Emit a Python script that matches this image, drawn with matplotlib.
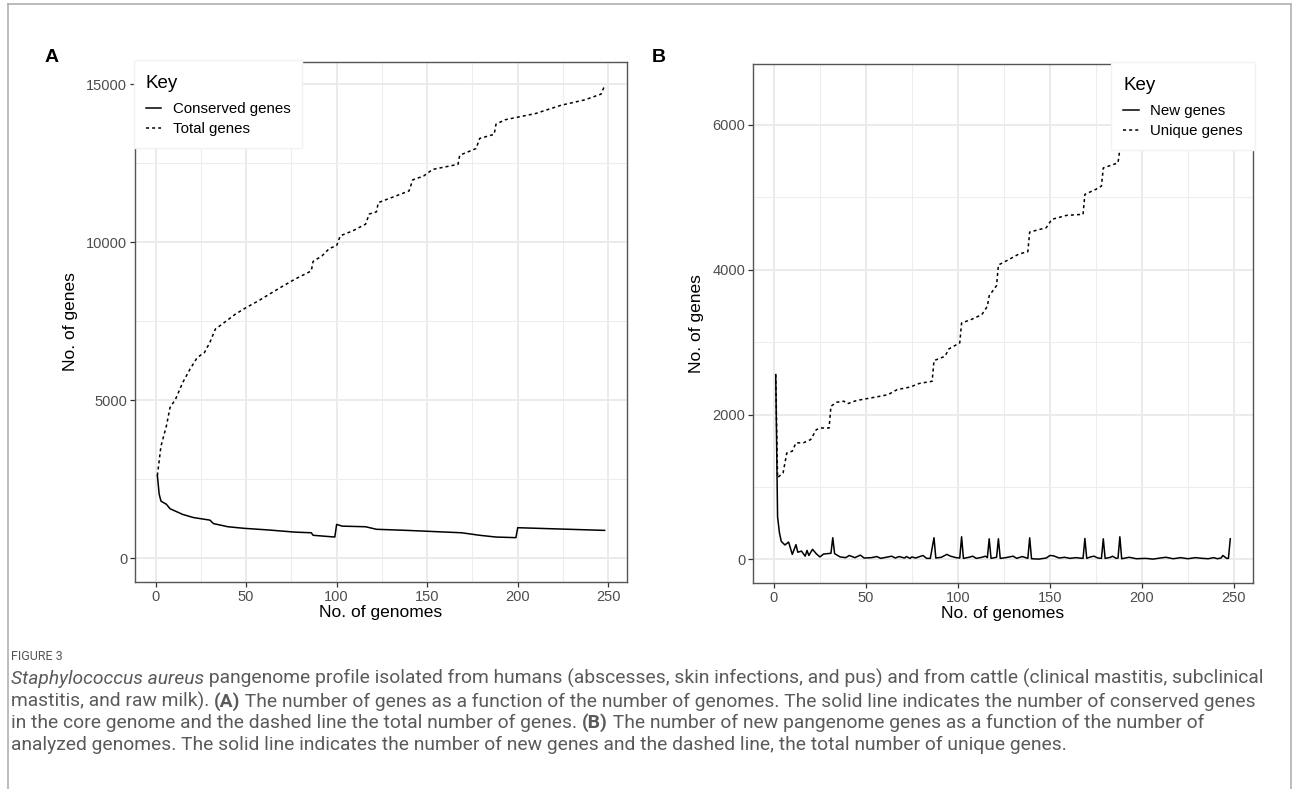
import matplotlib.pyplot as plt
from matplotlib.lines import Line2D
from matplotlib.text import Annotation

# ---- Panel A: pangenome size vs number of genomes ----
a_total_x = [1, 3, 6, 8, 11, 15, 19, 23, 27, 30, 33, 38, 44, 50, 57, 63, 70, 77, 86, 87,
             92, 96, 100, 102, 109, 116, 118, 122, 123, 140, 142, 148, 153, 167, 168, 177,
             179, 187, 188, 193, 210, 224, 237, 246, 248]
a_total = [2620, 3550, 4190, 4770, 5030, 5560, 5980, 6350, 6510, 6830, 7250, 7460, 7720,
           7930, 8150, 8360, 8600, 8830, 9090, 9390, 9570, 9800, 9890, 10200, 10360, 10570,
           10890, 10960, 11250, 11620, 11970, 12090, 12300, 12460, 12750, 12960, 13280,
           13410, 13730, 13870, 14070, 14330, 14500, 14680, 14950]

a_cons_x = [1, 2, 3, 6, 8, 15, 21, 30, 32, 40, 49, 62, 77, 86, 87, 99, 100, 103, 116, 122,
            139, 169, 179, 188, 199, 200, 248]
a_conserved = [2620, 2030, 1810, 1710, 1570, 1390, 1290, 1210, 1100, 1000, 950, 900, 830,
               810, 730, 675, 1075, 1020, 1000, 920, 885, 810, 730, 675, 655, 970, 885]

# ---- Panel B: new and unique genes ----
b_new_x = [1, 2, 3, 4, 6, 8, 10, 12, 13, 15, 17, 18, 19, 21, 23, 25, 27, 29, 31, 32, 33, 36,
           39, 41, 44, 47, 49, 53, 56, 58, 61, 64, 66, 68, 71, 72, 74, 75, 77, 81, 83, 85,
           87, 88, 91, 94, 96, 99, 101, 102, 103, 106, 108, 110, 113, 115, 116, 117, 118,
           121, 122, 123, 126, 130, 132, 133, 135, 138, 139, 140, 144, 148, 150, 152, 155,
           158, 161, 164, 168, 169, 170, 172, 174, 176, 178, 179, 180, 183, 184, 186, 187,
           188, 189, 193, 197, 202, 206, 210, 213, 217, 221, 225, 229, 233, 236, 239, 241,
           243, 244, 246, 247, 248]
b_new = [2552, 590, 370, 250, 200, 240, 70, 205, 100, 115, 45, 125, 55, 140, 80, 35, 75, 80,
         85, 300, 80, 35, 25, 55, 25, 60, 20, 25, 40, 15, 30, 45, 20, 40, 20, 40, 15, 35,
         20, 55, 15, 15, 300, 20, 30, 70, 45, 25, 20, 313, 15, 30, 45, 15, 30, 45, 25, 285,
         15, 30, 285, 15, 25, 45, 15, 25, 40, 15, 299, 10, 5, 20, 55, 50, 20, 30, 15, 25,
         15, 290, 15, 35, 45, 20, 15, 285, 15, 30, 45, 15, 20, 313, 10, 30, 10, 15, 5, 20,
         30, 10, 25, 10, 25, 15, 10, 25, 10, 20, 55, 15, 15, 285]

b_uniq_x = [1, 2, 5, 7, 10, 12, 16, 20, 23, 25, 30, 31, 34, 38, 40, 45, 56, 62, 67, 74, 79,
            86, 87, 93, 95, 101, 102, 107, 113, 116, 117, 121, 122, 128, 133, 138, 139, 148,
            151, 159, 168, 169, 175, 178, 179, 187, 188, 200, 215, 230, 248]
b_unique = [2552, 1130, 1195, 1470, 1495, 1610, 1610, 1655, 1790, 1815, 1815, 2115, 2170,
            2185, 2150, 2195, 2245, 2275, 2345, 2380, 2430, 2460, 2745, 2805, 2905, 2990,
            3265, 3310, 3380, 3495, 3640, 3780, 4065, 4145, 4215, 4250, 4520, 4580, 4695,
            4750, 4765, 5040, 5110, 5155, 5405, 5475, 5665, 5950, 6150, 6300, 6515]

caption = [
    [("Staphylococcus aureus", "italic", "normal"),
     (" pangenome profile isolated from humans (abscesses, skin infections, and pus) and "
      "from cattle (clinical mastitis, subclinical", "normal", "normal")],
    [("mastitis, and raw milk). ", "normal", "normal"), ("(A)", "normal", "bold"),
     (" The number of genes as a function of the number of genomes. The solid line "
      "indicates the number of conserved genes", "normal", "normal")],
    [("in the core genome and the dashed line the total number of genes. ", "normal", "normal"),
     ("(B)", "normal", "bold"),
     (" The number of new pangenome genes as a function of the number of", "normal", "normal")],
    [("analyzed genomes. The solid line indicates the number of new genes and the dashed "
      "line, the total number of unique genes.", "normal", "normal")],
]

plt.rcParams['font.family'] = ['Liberation Sans', 'DejaVu Sans']

W, H = 1293, 789
fig = plt.figure(figsize=(W / 100, H / 100), dpi=100)


def box(l, t, r, b):
    return [l / W, 1 - b / H, (r - l) / W, (b - t) / H]


ax_a = fig.add_axes(box(135, 62, 627, 582))
ax_b = fig.add_axes(box(753, 64, 1253, 583))

dotted = (0, (2, 2))


def style(ax, yticks, yminor, ylim):
    ax.set_xlim(-11.35, 260.35)
    ax.set_ylim(*ylim)
    ax.set_xticks([0, 50, 100, 150, 200, 250])
    ax.set_xticks([25, 75, 125, 175, 225], minor=True)
    ax.set_yticks(yticks)
    ax.set_yticks(yminor, minor=True)
    ax.grid(which='major', color='#ebebeb', lw=1.4)
    ax.grid(which='minor', color='#ededed', lw=0.8)
    ax.set_axisbelow(True)
    ax.tick_params(which='minor', length=0)
    ax.tick_params(which='major', length=3.5, width=0.9, color='#333333',
                   labelsize=10.5, labelcolor='#4d4d4d', pad=2)
    for s in ax.spines.values():
        s.set_color('#555555')
        s.set_linewidth(1.0)
    ax.set_xlabel('No. of genomes', fontsize=12.5, labelpad=1)
    ax.set_ylabel('No. of genes', fontsize=12.5, labelpad=6)


ax_a.plot(a_cons_x, a_conserved, color='black', lw=1.1, label='Conserved genes')
ax_a.plot(a_total_x, a_total, color='black', lw=1.1, ls=dotted, label='Total genes')
style(ax_a, [0, 5000, 10000, 15000], [2500, 7500, 12500], (-747, 15697))

ax_b.plot(b_new_x, b_new, color='black', lw=1.1, label='New genes')
ax_b.plot(b_uniq_x, b_unique, color='black', lw=1.1, ls=dotted, label='Unique genes')
style(ax_b, [0, 2000, 4000, 6000], [1000, 3000, 5000], (-325, 6840))

leg_kw = dict(title='Key', borderaxespad=0, frameon=True, fancybox=False, framealpha=1,
              edgecolor='#f2f2f2', fontsize=10.8, title_fontsize=13.5, handlelength=1.05,
              handletextpad=0.75, labelspacing=0.4, borderpad=0.8, alignment='left')
leg_a = ax_a.legend(loc='upper left', bbox_to_anchor=(-0.003, 1.003), **leg_kw)
leg_b = ax_b.legend(loc='upper right', bbox_to_anchor=(1.004, 1.003), **leg_kw)
for leg in (leg_a, leg_b):
    leg.get_title().set_position((0, -2.5))
    leg._legend_box.sep = 9.0  # extra gap between "Key" and the entries

fig.text(45 / W, 1 - 58 / H, 'A', fontsize=14, fontweight='bold', va='center')
fig.text(652 / W, 1 - 58 / H, 'B', fontsize=14, fontweight='bold', va='center')

# outer figure frame
frame_kw = dict(color='#b0b0b0', lw=1.2, transform=fig.transFigure)
fig.add_artist(Line2D([8 / W, 1291 / W], [1 - 4 / H, 1 - 4 / H], **frame_kw))
fig.add_artist(Line2D([8 / W, 8 / W], [0, 1 - 4 / H], **frame_kw))
fig.add_artist(Line2D([1291 / W, 1291 / W], [0, 1 - 4 / H], **frame_kw))

cap_font = ['Roboto', 'DejaVu Sans']
fig.text(11 / W, 1 - 656 / H, 'FIGURE 3', fontsize=9, color='#555555',
         family=cap_font, va='center')

for i, parts in enumerate(caption):
    y = 1 - (679 + i * 22) / H
    prev = None
    for text, style_, weight in parts:
        kw = dict(fontsize=13.9, color='#5a5a5a', family=cap_font, fontstyle=style_,
                  fontweight=weight)
        if prev is None:
            prev = fig.text(11 / W, y, text, va='center', ha='left', **kw)
        else:
            ann = Annotation(text, xy=(1, 0), xycoords=prev, va='bottom', ha='left', **kw)
            fig.add_artist(ann)
            prev = ann

fig.savefig('out.png', dpi=100)
